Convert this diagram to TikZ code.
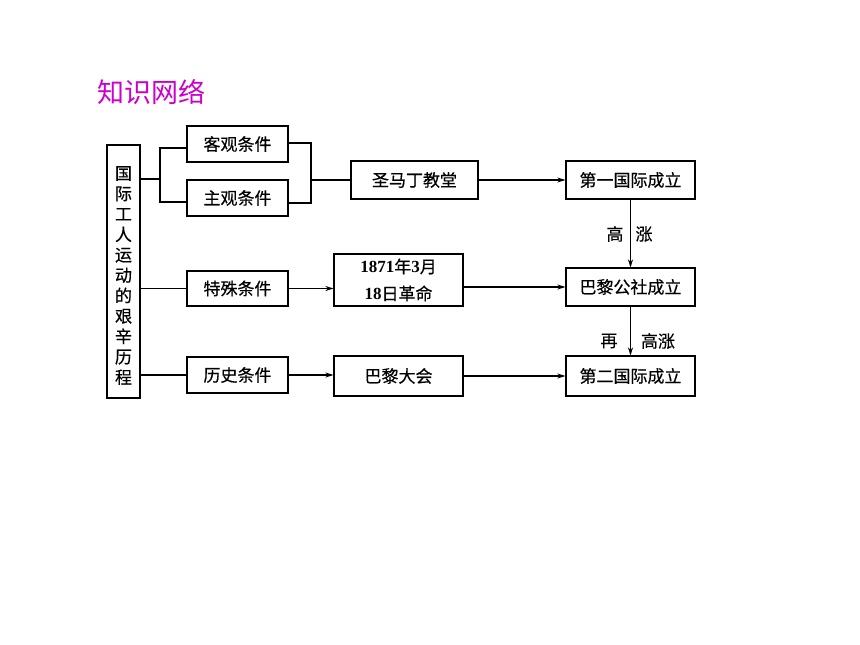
\documentclass[tikz,border=0pt]{standalone}
\usepackage{fontspec}
\setmainfont{Liberation Serif}
\newfontfamily\cjk{Noto Sans CJK SC}
\newfontfamily\cjkb[FakeBold=0.4]{Noto Sans CJK SC}
\usetikzlibrary{arrows.meta}
\definecolor{titlemag}{RGB}{204,0,204}
\begin{document}
\begin{tikzpicture}[x=1pt,y=-1pt,
  box/.style={draw, line width=1.1pt, inner sep=0pt, align=center, font=\cjkb\fontsize{17}{20}\selectfont},
  conn/.style={line width=1.1pt},
  arr/.style={conn,-{Stealth[length=8pt,width=5pt]}},
  lbl/.style={font=\cjkb\fontsize{17}{20}\selectfont, inner sep=0pt}]
\useasboundingbox (0,0) rectangle (860,645);
\node[font=\cjk\fontsize{27}{30}\selectfont, text=titlemag, inner sep=0pt] (title) at (151,92) {知识网络};
\node[box, minimum width=33, minimum height=253] (L) at (123.5,271.5) {};
\node[lbl, align=center, font=\cjkb\fontsize{17}{20.4}\selectfont] (Ltext) at (123.5,275.5)
  {国\\际\\工\\人\\运\\动\\的\\艰\\辛\\历\\程};
\node[box, minimum width=101, minimum height=36] (kg) at (237.5,144) {客观条件};
\node[box, minimum width=101, minimum height=36] (zg) at (237.5,198) {主观条件};
\node[box, minimum width=127, minimum height=38] (sm) at (414.5,180) {圣马丁教堂};
\node[box, minimum width=129, minimum height=38] (d1) at (630.5,180) {第一国际成立};
\node[box, minimum width=101, minimum height=35] (ts) at (237.5,288.5) {特殊条件};
\node[box, minimum width=129, minimum height=52, font=\cjkb\fontsize{17}{27}\selectfont] (ev) at (398.5,280)
  {{\rmfamily\bfseries 1871}年{\rmfamily\bfseries 3}月\\{\rmfamily\bfseries 18}日革命};
\node[box, minimum width=129, minimum height=38] (bl) at (630.5,287) {巴黎公社成立};
\node[box, minimum width=101, minimum height=36] (ls) at (237.5,375) {历史条件};
\node[box, minimum width=129, minimum height=40] (dh) at (398.5,376) {巴黎大会};
\node[box, minimum width=129, minimum height=40] (d2) at (630.5,376) {第二国际成立};
\coordinate (b1) at (160,179);
\coordinate (b2) at (311,180);
\draw[conn] (L.east |- b1) -- (b1);
\draw[conn] ([yshift=-4pt]kg.west) -| (b1) |- ([yshift=-4pt]zg.west);
\draw[conn] ([yshift=1pt]kg.east) -| (b2) |- ([yshift=-5pt]zg.east);
\draw[conn] (b2) -- (sm.west);
\draw[arr] (sm.east) -- (d1.west);
\draw[conn] (L.east |- ts.west) -- (ts.west);
\draw[arr] (ts.east) -- (ev.west |- ts.east);
\draw[arr] (ev.east |- bl.west) -- (bl.west);
\draw[conn] (L.east |- ls.west) -- (ls.west);
\draw[arr] (ls.east) -- (dh.west |- ls.east);
\draw[arr] (dh.east) -- (d2.west);
\draw[arr] (d1.south) -- (bl.north);
\draw[arr] (bl.south) -- (d2.north);
\node[lbl] (g1) at (615,234) {高};
\node[lbl] (z1) at (644,234) {涨};
\node[lbl] (zai) at (609,341) {再};
\node[lbl] (gz) at (658,341) {高涨};
\end{tikzpicture}
\end{document}
